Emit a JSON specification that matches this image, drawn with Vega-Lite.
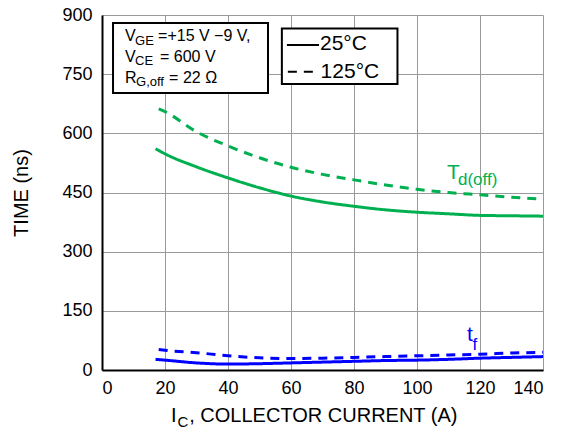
{
  "$schema": "https://vega.github.io/schema/vega-lite/v6.json",
  "width": 441,
  "height": 355,
  "autosize": {"type": "none"},
  "padding": {"left": 102, "top": 15, "right": 22, "bottom": 68},
  "background": "white",
  "config": {
    "view": {"stroke": null},
    "font": "Liberation Sans",
    "axis": {
      "labelFont": "Liberation Sans",
      "titleFont": "Liberation Sans",
      "labelColor": "black",
      "titleColor": "black",
      "labelFontSize": 18,
      "titleFontSize": 20,
      "titleFontWeight": "normal",
      "domainColor": "black",
      "domainWidth": 2,
      "gridColor": "#9a9a9a",
      "gridWidth": 1,
      "gridOpacity": 1,
      "ticks": false
    }
  },
  "datasets": {
    "curves": [
      {"ic": 17, "time": 561, "series": "Td", "temp": "25"},
      {"ic": 20, "time": 548, "series": "Td", "temp": "25"},
      {"ic": 30, "time": 515, "series": "Td", "temp": "25"},
      {"ic": 40, "time": 487, "series": "Td", "temp": "25"},
      {"ic": 50, "time": 462, "series": "Td", "temp": "25"},
      {"ic": 60, "time": 441, "series": "Td", "temp": "25"},
      {"ic": 70, "time": 426, "series": "Td", "temp": "25"},
      {"ic": 80, "time": 415, "series": "Td", "temp": "25"},
      {"ic": 90, "time": 406, "series": "Td", "temp": "25"},
      {"ic": 100, "time": 400, "series": "Td", "temp": "25"},
      {"ic": 110, "time": 396, "series": "Td", "temp": "25"},
      {"ic": 120, "time": 392, "series": "Td", "temp": "25"},
      {"ic": 130, "time": 391, "series": "Td", "temp": "25"},
      {"ic": 140, "time": 390, "series": "Td", "temp": "25"},
      {"ic": 18, "time": 662, "series": "Td", "temp": "125"},
      {"ic": 20, "time": 655, "series": "Td", "temp": "125"},
      {"ic": 30, "time": 604, "series": "Td", "temp": "125"},
      {"ic": 40, "time": 568, "series": "Td", "temp": "125"},
      {"ic": 50, "time": 538, "series": "Td", "temp": "125"},
      {"ic": 60, "time": 514, "series": "Td", "temp": "125"},
      {"ic": 70, "time": 496, "series": "Td", "temp": "125"},
      {"ic": 80, "time": 482, "series": "Td", "temp": "125"},
      {"ic": 90, "time": 469, "series": "Td", "temp": "125"},
      {"ic": 100, "time": 458, "series": "Td", "temp": "125"},
      {"ic": 110, "time": 450, "series": "Td", "temp": "125"},
      {"ic": 120, "time": 444, "series": "Td", "temp": "125"},
      {"ic": 130, "time": 438, "series": "Td", "temp": "125"},
      {"ic": 140, "time": 433, "series": "Td", "temp": "125"},
      {"ic": 17, "time": 27, "series": "tf", "temp": "25"},
      {"ic": 20, "time": 25, "series": "tf", "temp": "25"},
      {"ic": 30, "time": 18, "series": "tf", "temp": "25"},
      {"ic": 40, "time": 15, "series": "tf", "temp": "25"},
      {"ic": 50, "time": 16, "series": "tf", "temp": "25"},
      {"ic": 60, "time": 18, "series": "tf", "temp": "25"},
      {"ic": 70, "time": 20, "series": "tf", "temp": "25"},
      {"ic": 80, "time": 22, "series": "tf", "temp": "25"},
      {"ic": 90, "time": 24, "series": "tf", "temp": "25"},
      {"ic": 100, "time": 25, "series": "tf", "temp": "25"},
      {"ic": 110, "time": 27, "series": "tf", "temp": "25"},
      {"ic": 120, "time": 30, "series": "tf", "temp": "25"},
      {"ic": 130, "time": 32, "series": "tf", "temp": "25"},
      {"ic": 140, "time": 34, "series": "tf", "temp": "25"},
      {"ic": 18, "time": 52, "series": "tf", "temp": "125"},
      {"ic": 20, "time": 50, "series": "tf", "temp": "125"},
      {"ic": 30, "time": 44, "series": "tf", "temp": "125"},
      {"ic": 40, "time": 36, "series": "tf", "temp": "125"},
      {"ic": 50, "time": 31, "series": "tf", "temp": "125"},
      {"ic": 60, "time": 29, "series": "tf", "temp": "125"},
      {"ic": 70, "time": 30, "series": "tf", "temp": "125"},
      {"ic": 80, "time": 32, "series": "tf", "temp": "125"},
      {"ic": 90, "time": 34, "series": "tf", "temp": "125"},
      {"ic": 100, "time": 36, "series": "tf", "temp": "125"},
      {"ic": 110, "time": 38, "series": "tf", "temp": "125"},
      {"ic": 120, "time": 40, "series": "tf", "temp": "125"},
      {"ic": 130, "time": 43, "series": "tf", "temp": "125"},
      {"ic": 140, "time": 45, "series": "tf", "temp": "125"}
    ],
    "boxes": [
      {"x1": 3.5, "x2": 52.7, "y1": 702, "y2": 880},
      {"x1": 57.1, "x2": 93.8, "y1": 725, "y2": 866}
    ],
    "legendLines": [
      {"x1": 58.7, "x2": 68.9, "y": 824, "legendTemp": "25"},
      {"x1": 59.0, "x2": 68.6, "y": 756, "legendTemp": "125"}
    ],
    "boxText": [
      {"x": 7.3, "y": 846.7, "t": "V"},
      {"x": 17.8, "y": 846.7, "t": "=+15 V −9 V,"},
      {"x": 7.3, "y": 794.7, "t": "V"},
      {"x": 18.4, "y": 794.7, "t": "= 600 V"},
      {"x": 7.3, "y": 741.5, "t": "R"},
      {"x": 21.3, "y": 741.5, "t": "= 22 Ω"}
    ],
    "boxSub": [
      {"x": 10.5, "y": 835.3, "t": "GE"},
      {"x": 10.5, "y": 783.3, "t": "CE"},
      {"x": 10.8, "y": 730, "t": "G,off"}
    ],
    "legendText": [
      {"x": 69.2, "y": 826, "t": "25°C"},
      {"x": 69.4, "y": 756, "t": "125°C"}
    ],
    "curveLabel": [
      {"x": 109.5, "y": 500.7, "t": "T", "series": "Td"},
      {"x": 115.9, "y": 88.7, "t": "t", "series": "tf"}
    ],
    "curveSub": [
      {"x": 113.0, "y": 481.7, "t": "d(off)", "series": "Td"},
      {"x": 117.6, "y": 63.4, "t": "f", "series": "tf"}
    ],
    "xTitle": [
      {"x": 21.9, "y": -117, "t": "I"},
      {"x": 27.7, "y": -117, "t": ", COLLECTOR CURRENT (A)"}
    ],
    "xTitleSub": [
      {"x": 24.0, "y": -132, "t": "C"}
    ]
  },
  "layer": [
    {
      "data": {"name": "curves"},
      "mark": {"type": "line", "interpolate": "monotone", "strokeWidth": 3},
      "encoding": {
        "x": {
          "field": "ic", "type": "quantitative",
          "scale": {"domain": [0, 140], "nice": false},
          "axis": {"values": [0, 20, 40, 60, 80, 100, 120, 140], "title": null, "labelPadding": 9}
        },
        "y": {
          "field": "time", "type": "quantitative",
          "scale": {"domain": [0, 900], "nice": false},
          "axis": {"values": [0, 150, 300, 450, 600, 750, 900], "title": "TIME (ns)", "labelPadding": 10, "titlePadding": 30, "titleFontWeight": "normal", "titleFontSize": 20}
        },
        "color": {
          "field": "series", "type": "nominal",
          "scale": {"domain": ["Td", "tf"], "range": ["#00B050", "#0000FF"]},
          "legend": null
        },
        "strokeDash": {
          "field": "temp", "type": "nominal",
          "scale": {"domain": ["25", "125"], "range": [[1, 0], [9, 7]]},
          "legend": null
        }
      }
    },
    {
      "data": {"name": "boxes"},
      "mark": {"type": "rect", "fill": "white", "stroke": "black", "strokeWidth": 2},
      "encoding": {
        "x": {"field": "x1", "type": "quantitative"},
        "x2": {"field": "x2"},
        "y": {"field": "y1", "type": "quantitative"},
        "y2": {"field": "y2"}
      }
    },
    {
      "data": {"name": "legendLines"},
      "mark": {"type": "rule", "color": "black", "strokeWidth": 2},
      "encoding": {
        "x": {"field": "x1", "type": "quantitative"},
        "x2": {"field": "x2"},
        "y": {"field": "y", "type": "quantitative"},
        "strokeDash": {
          "field": "legendTemp", "type": "nominal",
          "scale": {"domain": ["25", "125"], "range": [[1, 0], [7, 15]]},
          "legend": null
        }
      }
    },
    {
      "data": {"name": "boxText"},
      "mark": {"type": "text", "align": "left", "baseline": "middle", "fontSize": 16, "color": "black", "font": "Liberation Sans"},
      "encoding": {
        "x": {"field": "x", "type": "quantitative"},
        "y": {"field": "y", "type": "quantitative"},
        "text": {"field": "t"}
      }
    },
    {
      "data": {"name": "boxSub"},
      "mark": {"type": "text", "align": "left", "baseline": "middle", "fontSize": 13, "color": "black", "font": "Liberation Sans"},
      "encoding": {
        "x": {"field": "x", "type": "quantitative"},
        "y": {"field": "y", "type": "quantitative"},
        "text": {"field": "t"}
      }
    },
    {
      "data": {"name": "legendText"},
      "mark": {"type": "text", "align": "left", "baseline": "middle", "fontSize": 21, "color": "black", "font": "Liberation Sans"},
      "encoding": {
        "x": {"field": "x", "type": "quantitative"},
        "y": {"field": "y", "type": "quantitative"},
        "text": {"field": "t"}
      }
    },
    {
      "data": {"name": "curveLabel"},
      "mark": {"type": "text", "align": "left", "baseline": "middle", "fontSize": 21, "font": "Liberation Sans"},
      "encoding": {
        "x": {"field": "x", "type": "quantitative"},
        "y": {"field": "y", "type": "quantitative"},
        "text": {"field": "t"},
        "color": {"field": "series", "type": "nominal", "legend": null}
      }
    },
    {
      "data": {"name": "curveSub"},
      "mark": {"type": "text", "align": "left", "baseline": "middle", "fontSize": 17, "font": "Liberation Sans"},
      "encoding": {
        "x": {"field": "x", "type": "quantitative"},
        "y": {"field": "y", "type": "quantitative"},
        "text": {"field": "t"},
        "color": {"field": "series", "type": "nominal", "legend": null}
      }
    },
    {
      "data": {"name": "xTitle"},
      "mark": {"type": "text", "align": "left", "baseline": "middle", "fontSize": 20, "color": "black", "font": "Liberation Sans"},
      "encoding": {
        "x": {"field": "x", "type": "quantitative"},
        "y": {"field": "y", "type": "quantitative"},
        "text": {"field": "t"}
      }
    },
    {
      "data": {"name": "xTitleSub"},
      "mark": {"type": "text", "align": "left", "baseline": "middle", "fontSize": 15, "color": "black", "font": "Liberation Sans"},
      "encoding": {
        "x": {"field": "x", "type": "quantitative"},
        "y": {"field": "y", "type": "quantitative"},
        "text": {"field": "t"}
      }
    }
  ]
}
